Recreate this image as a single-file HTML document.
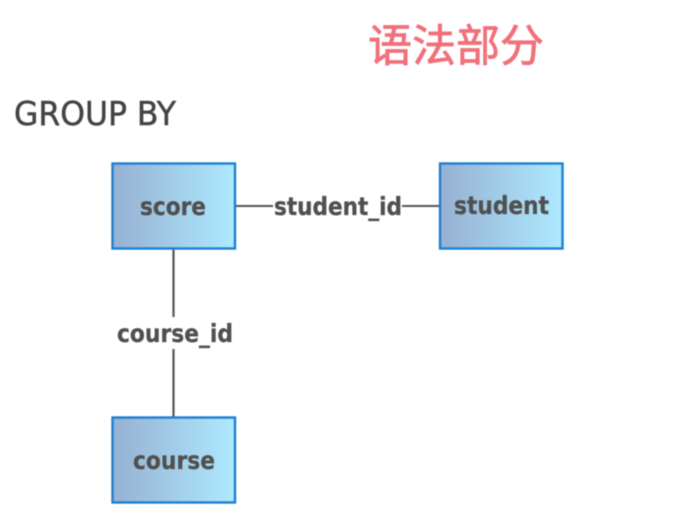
<!DOCTYPE html>
<html><head><meta charset="utf-8">
<style>
html,body{margin:0;padding:0;background:#fff;}
svg{display:block;filter:blur(0.45px);}
text{font-family:"DejaVu Sans","Liberation Sans",sans-serif;}
</style></head>
<body>
<svg width="697" height="517" viewBox="0 0 697 517" xmlns="http://www.w3.org/2000/svg">
<defs>
<linearGradient id="g" x1="0" y1="0" x2="1" y2="0">
<stop offset="0" stop-color="#96b0d1"/>
<stop offset="1" stop-color="#aeeaff"/>
</linearGradient>
</defs>
<rect width="697" height="517" fill="#fff"/>
<text x="368" y="61" font-size="44" fill="#f1707a" stroke="#f1707a" stroke-width="0.8" textLength="176" lengthAdjust="spacingAndGlyphs" style='font-family:"Liberation Sans","Noto Sans CJK SC",sans-serif'>语法部分</text>
<text x="14" y="125" font-size="33" fill="#444" stroke="#444" stroke-width="0.5" textLength="162" lengthAdjust="spacingAndGlyphs">GROUP BY</text>
<line x1="236" y1="206" x2="273" y2="206" stroke="#555" stroke-width="2"/>
<line x1="402" y1="206" x2="439" y2="206" stroke="#555" stroke-width="2"/>
<line x1="173.500" y1="249" x2="173.500" y2="317" stroke="#555" stroke-width="2.200"/>
<line x1="173.500" y1="349" x2="173.500" y2="417" stroke="#555" stroke-width="2.200"/>
<rect x="112.500" y="163.500" width="122.500" height="85" fill="url(#g)" stroke="#1f80d2" stroke-width="2.400"/>
<rect x="440" y="163.500" width="122.500" height="85" fill="url(#g)" stroke="#1f80d2" stroke-width="2.400"/>
<rect x="112.500" y="417.500" width="122.500" height="85" fill="url(#g)" stroke="#1f80d2" stroke-width="2.400"/>
<g font-size="25" font-weight="700" fill="#505050" stroke="#505050" stroke-width="0.3">
<text x="140" y="215" textLength="66" lengthAdjust="spacingAndGlyphs">score</text>
<text x="454" y="214" textLength="95" lengthAdjust="spacingAndGlyphs">student</text>
<text x="133" y="469" textLength="82" lengthAdjust="spacingAndGlyphs">course</text>
<text x="274" y="215" textLength="128" lengthAdjust="spacingAndGlyphs">student_id</text>
<text x="117" y="342" textLength="116" lengthAdjust="spacingAndGlyphs">course_id</text>
</g>
</svg>
</body></html>
